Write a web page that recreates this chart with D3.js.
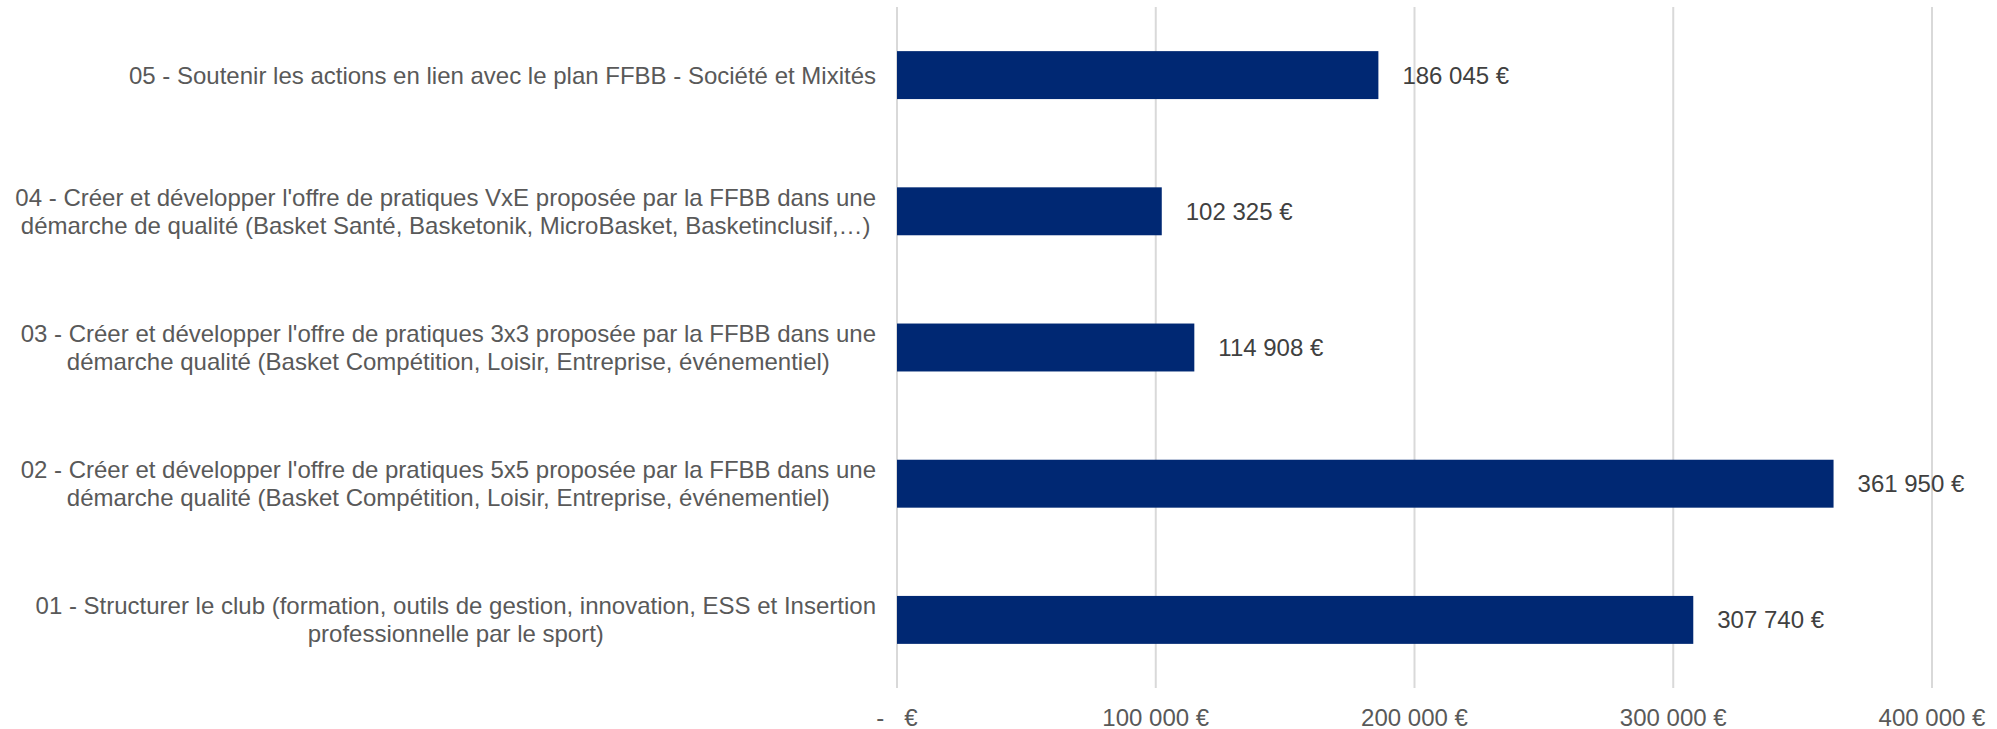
<!DOCTYPE html>
<html><head><meta charset="utf-8">
<script src="https://cdn.jsdelivr.net/npm/d3@7"></script>
<style>html,body{margin:0;padding:0;background:#fff;}svg{display:block;}</style>
</head><body>
<svg id="chart" width="1997" height="729"></svg>
<script>
const categories = [
  ["05 - Soutenir les actions en lien avec le plan FFBB - Société et Mixités"],
  ["04 - Créer et développer l'offre de pratiques VxE proposée par la FFBB dans une", "démarche de qualité (Basket Santé, Basketonik, MicroBasket, Basketinclusif,…)"],
  ["03 - Créer et développer l'offre de pratiques 3x3 proposée par la FFBB dans une", "démarche qualité (Basket Compétition, Loisir, Entreprise, événementiel)"],
  ["02 - Créer et développer l'offre de pratiques 5x5 proposée par la FFBB dans une", "démarche qualité (Basket Compétition, Loisir, Entreprise, événementiel)"],
  ["01 - Structurer le club (formation, outils de gestion, innovation, ESS et Insertion", "professionnelle par le sport)"]
];
const values = [186045, 102325, 114908, 361950, 307740];
const tickValues = [0, 100000, 200000, 300000, 400000];
const tickLabels = ["-\u00a0\u00a0\u00a0€", "100 000 €", "200 000 €", "300 000 €", "400 000 €"];

const locale = d3.formatLocale({decimal: ",", thousands: "\u00a0", grouping: [3], currency: ["", "\u00a0€"]});
const fmt = locale.format("$,.0f");

const svg = d3.select("#chart");
const x = d3.scaleLinear().domain([0, 400000]).range([897, 1932]);
const y = d3.scaleBand().domain(d3.range(categories.length)).range([7, 688]).paddingInner(0.648).paddingOuter(0.324);

// gridlines
svg.append("g").selectAll("line").data(tickValues).join("line")
  .attr("x1", d => x(d)).attr("x2", d => x(d))
  .attr("y1", 7).attr("y2", 688)
  .attr("stroke", "#d9d9d9").attr("stroke-width", 2);

// bars
svg.append("g").selectAll("rect").data(values).join("rect")
  .attr("x", x(0)).attr("y", (d, i) => y(i))
  .attr("width", d => x(d) - x(0)).attr("height", y.bandwidth())
  .attr("fill", "#002873");

// value labels
svg.append("g").selectAll("text").data(values).join("text")
  .attr("x", d => x(d) + 24).attr("y", (d, i) => y(i) + y.bandwidth() / 2)
  .attr("dy", "0.35em")
  .attr("font-family", "Liberation Sans, Arial, sans-serif").attr("font-size", 24)
  .attr("fill", "#404040")
  .text(d => fmt(d));

// x tick labels
svg.append("g").selectAll("text").data(tickValues).join("text")
  .attr("x", d => x(d)).attr("y", 726)
  .attr("text-anchor", "middle")
  .attr("font-family", "Liberation Sans, Arial, sans-serif").attr("font-size", 24)
  .attr("fill", "#595959")
  .text((d, i) => tickLabels[i]);

// category labels
const rightEdge = 876;
const lineH = 28;
categories.forEach((lines, i) => {
  const g = svg.append("g");
  const texts = g.selectAll("text").data(lines).join("text")
    .attr("font-family", "Liberation Sans, Arial, sans-serif").attr("font-size", 24)
    .attr("fill", "#595959")
    .attr("text-anchor", "middle")
    .text(d => d);
  let maxW = 0;
  texts.each(function () { maxW = Math.max(maxW, this.getComputedTextLength()); });
  const cx = rightEdge - maxW / 2;
  const cy = y(i) + y.bandwidth() / 2;
  texts.attr("x", cx)
    .attr("y", (d, j) => cy + (j - (lines.length - 1) / 2) * lineH)
    .attr("dy", "0.35em");
});
</script>
</body></html>
